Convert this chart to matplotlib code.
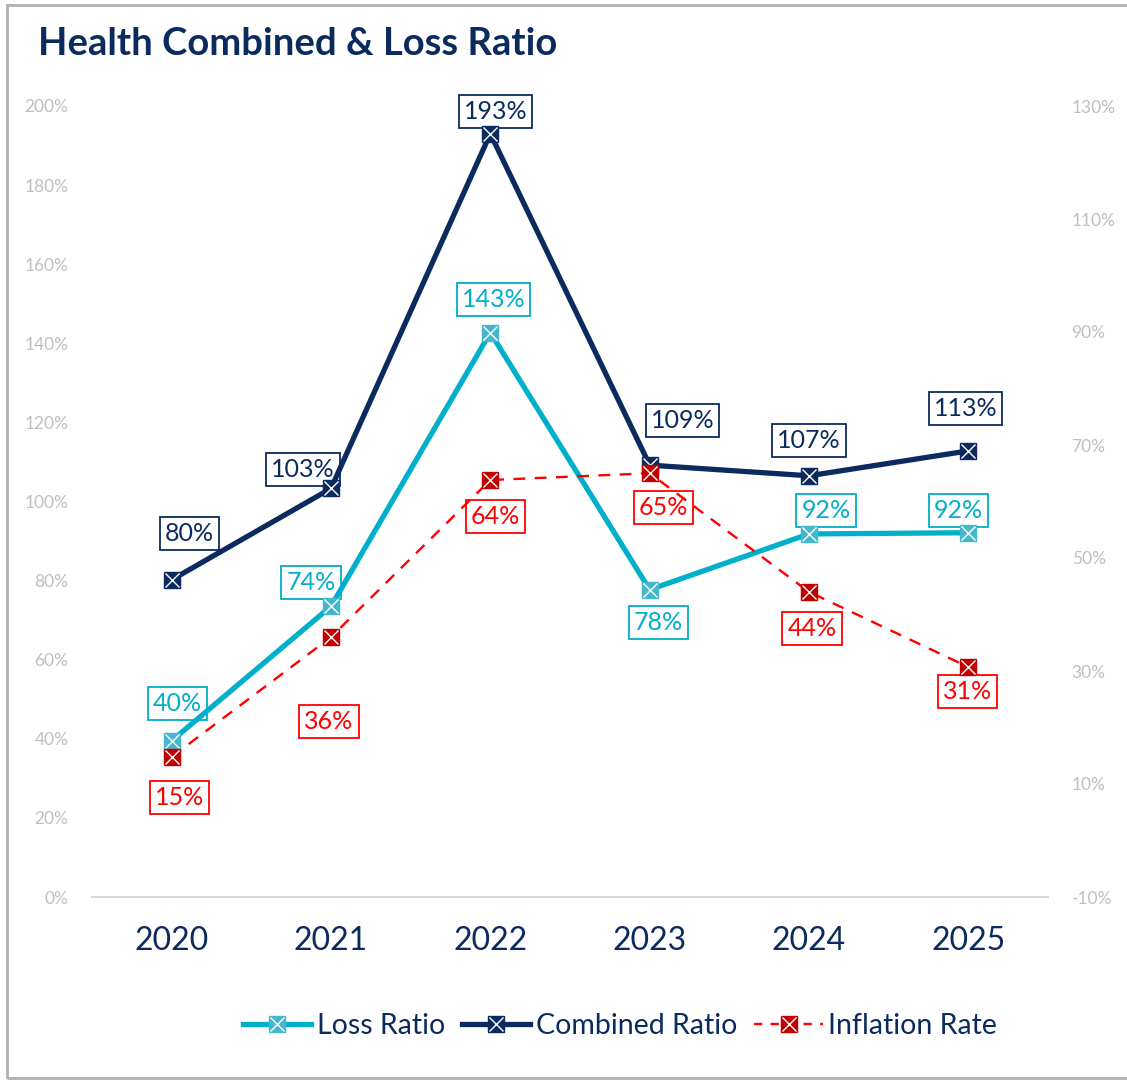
import matplotlib
matplotlib.use("Agg")
import matplotlib.pyplot as plt
from matplotlib.patches import Rectangle
from matplotlib.ticker import FuncFormatter
from matplotlib.legend_handler import HandlerTuple

plt.rcParams['font.family'] = ['Lato', 'DejaVu Sans']

# --- data ---
years = ["2020", "2021", "2022", "2023", "2024", "2025"]
loss_ratio = [39.5, 73.5, 142.7, 77.7, 91.8, 92.1]
combined_ratio = [80.2, 103.3, 193.0, 109.2, 106.5, 112.8]
inflation_rate = [14.8, 36.0, 63.8, 65.0, 44.0, 30.7]
loss_labels = ["40%", "74%", "143%", "78%", "92%", "92%"]
combined_labels = ["80%", "103%", "193%", "109%", "107%", "113%"]
inflation_labels = ["15%", "36%", "64%", "65%", "44%", "31%"]
left_ticks = [0, 20, 40, 60, 80, 100, 120, 140, 160, 180, 200]
right_ticks = [-10, 10, 30, 50, 70, 90, 110, 130]

# label offsets in pixels (dx, dy) relative to each point
loss_off = [(6, 37), (-20, 24), (3, 33), (9, -33), (17, 23), (-10, 22)]
comb_off = [(18, 46), (-28, 19), (5, 22), (33, 45), (0, 35), (-3, 42)]
infl_off = [(8, -41), (-2, -84), (5, -36), (14, -34), (3, -37), (-1, -24)]

NAVY = "#0B2B5E"
CYAN = "#00AFC9"
CYAN_MK = "#45B7CB"
RED = "#FF0000"
DARKRED = "#C00000"
GRAY = "#BFBFBF"

W, H = 1127, 1081
fig = plt.figure(figsize=(W / 100, H / 100), dpi=100)
fig.patches.append(Rectangle((7 / W, 3 / H), 1.2, (1076 - 3) / H, transform=fig.transFigure,
                             fill=False, edgecolor="#B0B0B0", lw=2))

ax = fig.add_axes([92 / W, (H - 897) / H, (1048 - 92) / W, (897 - 106) / H])
ax2 = ax.twinx()
x = list(range(len(years)))

ax.set_xlim(-0.5, len(years) - 0.5)
ax.set_ylim(0, 200)
ax2.set_ylim(-10, 130)
ax.set_yticks(left_ticks)
ax2.set_yticks(right_ticks)
pct = FuncFormatter(lambda v, p: f"{v:.0f}%")
ax.yaxis.set_major_formatter(pct)
ax2.yaxis.set_major_formatter(pct)
for a in (ax, ax2):
    for s in a.spines.values():
        s.set_visible(False)
    a.tick_params(axis="y", length=0, labelsize=12.5, labelcolor=GRAY, pad=17)
ax.spines["bottom"].set_visible(True)
ax.spines["bottom"].set_color("#D9D9D9")
ax.spines["bottom"].set_linewidth(1.5)
ax.set_xticks(x)
ax.set_xticklabels(years, fontsize=23, color=NAVY)
ax.tick_params(axis="x", length=0, pad=21)


def series(a, vals, lc, mc, lw, ls, z):
    a.plot(x, vals, color=lc, lw=lw, ls=ls, zorder=z)
    sq, = a.plot(x, vals, ls="none", marker="s", ms=12, mfc=mc, mec=mc, zorder=z + 1)
    xx, = a.plot(x, vals, ls="none", marker="x", ms=10, mec="white", mew=1.0, zorder=z + 2)
    return sq, xx


def labels(a, vals, texts, offs, col):
    for xi, v, t, (dx, dy) in zip(x, vals, texts, offs):
        a.annotate(t, (xi, v), xytext=(dx, dy), textcoords="offset pixels",
                   ha="center", va="center", fontsize=18, color=col, zorder=2,
                   bbox=dict(boxstyle="square,pad=0.2", fc="white", ec=col, lw=1.3))


labels(ax, combined_ratio, combined_labels, comb_off, NAVY)
labels(ax, loss_ratio, loss_labels, loss_off, CYAN)
h_loss = series(ax, loss_ratio, CYAN, CYAN_MK, 3.8, "-", 5)
h_comb = series(ax, combined_ratio, NAVY, NAVY, 3.8, "-", 8)
labels(ax2, inflation_rate, inflation_labels, infl_off, RED)
h_infl = series(ax2, inflation_rate, RED, DARKRED, 1.7, (0, (5, 4)), 5)

# legend handles: line + square + x overlay
l1, = ax.plot([], [], color=CYAN, lw=3.8)
l2, = ax.plot([], [], color=NAVY, lw=3.8)
l3, = ax.plot([], [], color=RED, lw=1.7, ls=(0, (3.5, 3.5)))
leg = fig.legend([(l1,) + h_loss, (l2,) + h_comb, (l3,) + h_infl],
                 ["Loss Ratio", "Combined Ratio", "Inflation Rate"],
                 handler_map={tuple: HandlerTuple(ndivide=1, pad=0)},
                 loc="center", bbox_to_anchor=(620 / W, (H - 1026) / H), ncol=3,
                 frameon=False, fontsize=20.5, handlelength=2.4, handletextpad=0.2,
                 columnspacing=0.6, labelcolor=NAVY)

fig.text(38 / W, (H - 44) / H, "Health Combined & Loss Ratio", fontsize=27.5, fontweight="bold",
         color=NAVY, ha="left", va="center")

fig.savefig("out.png", dpi=100)
